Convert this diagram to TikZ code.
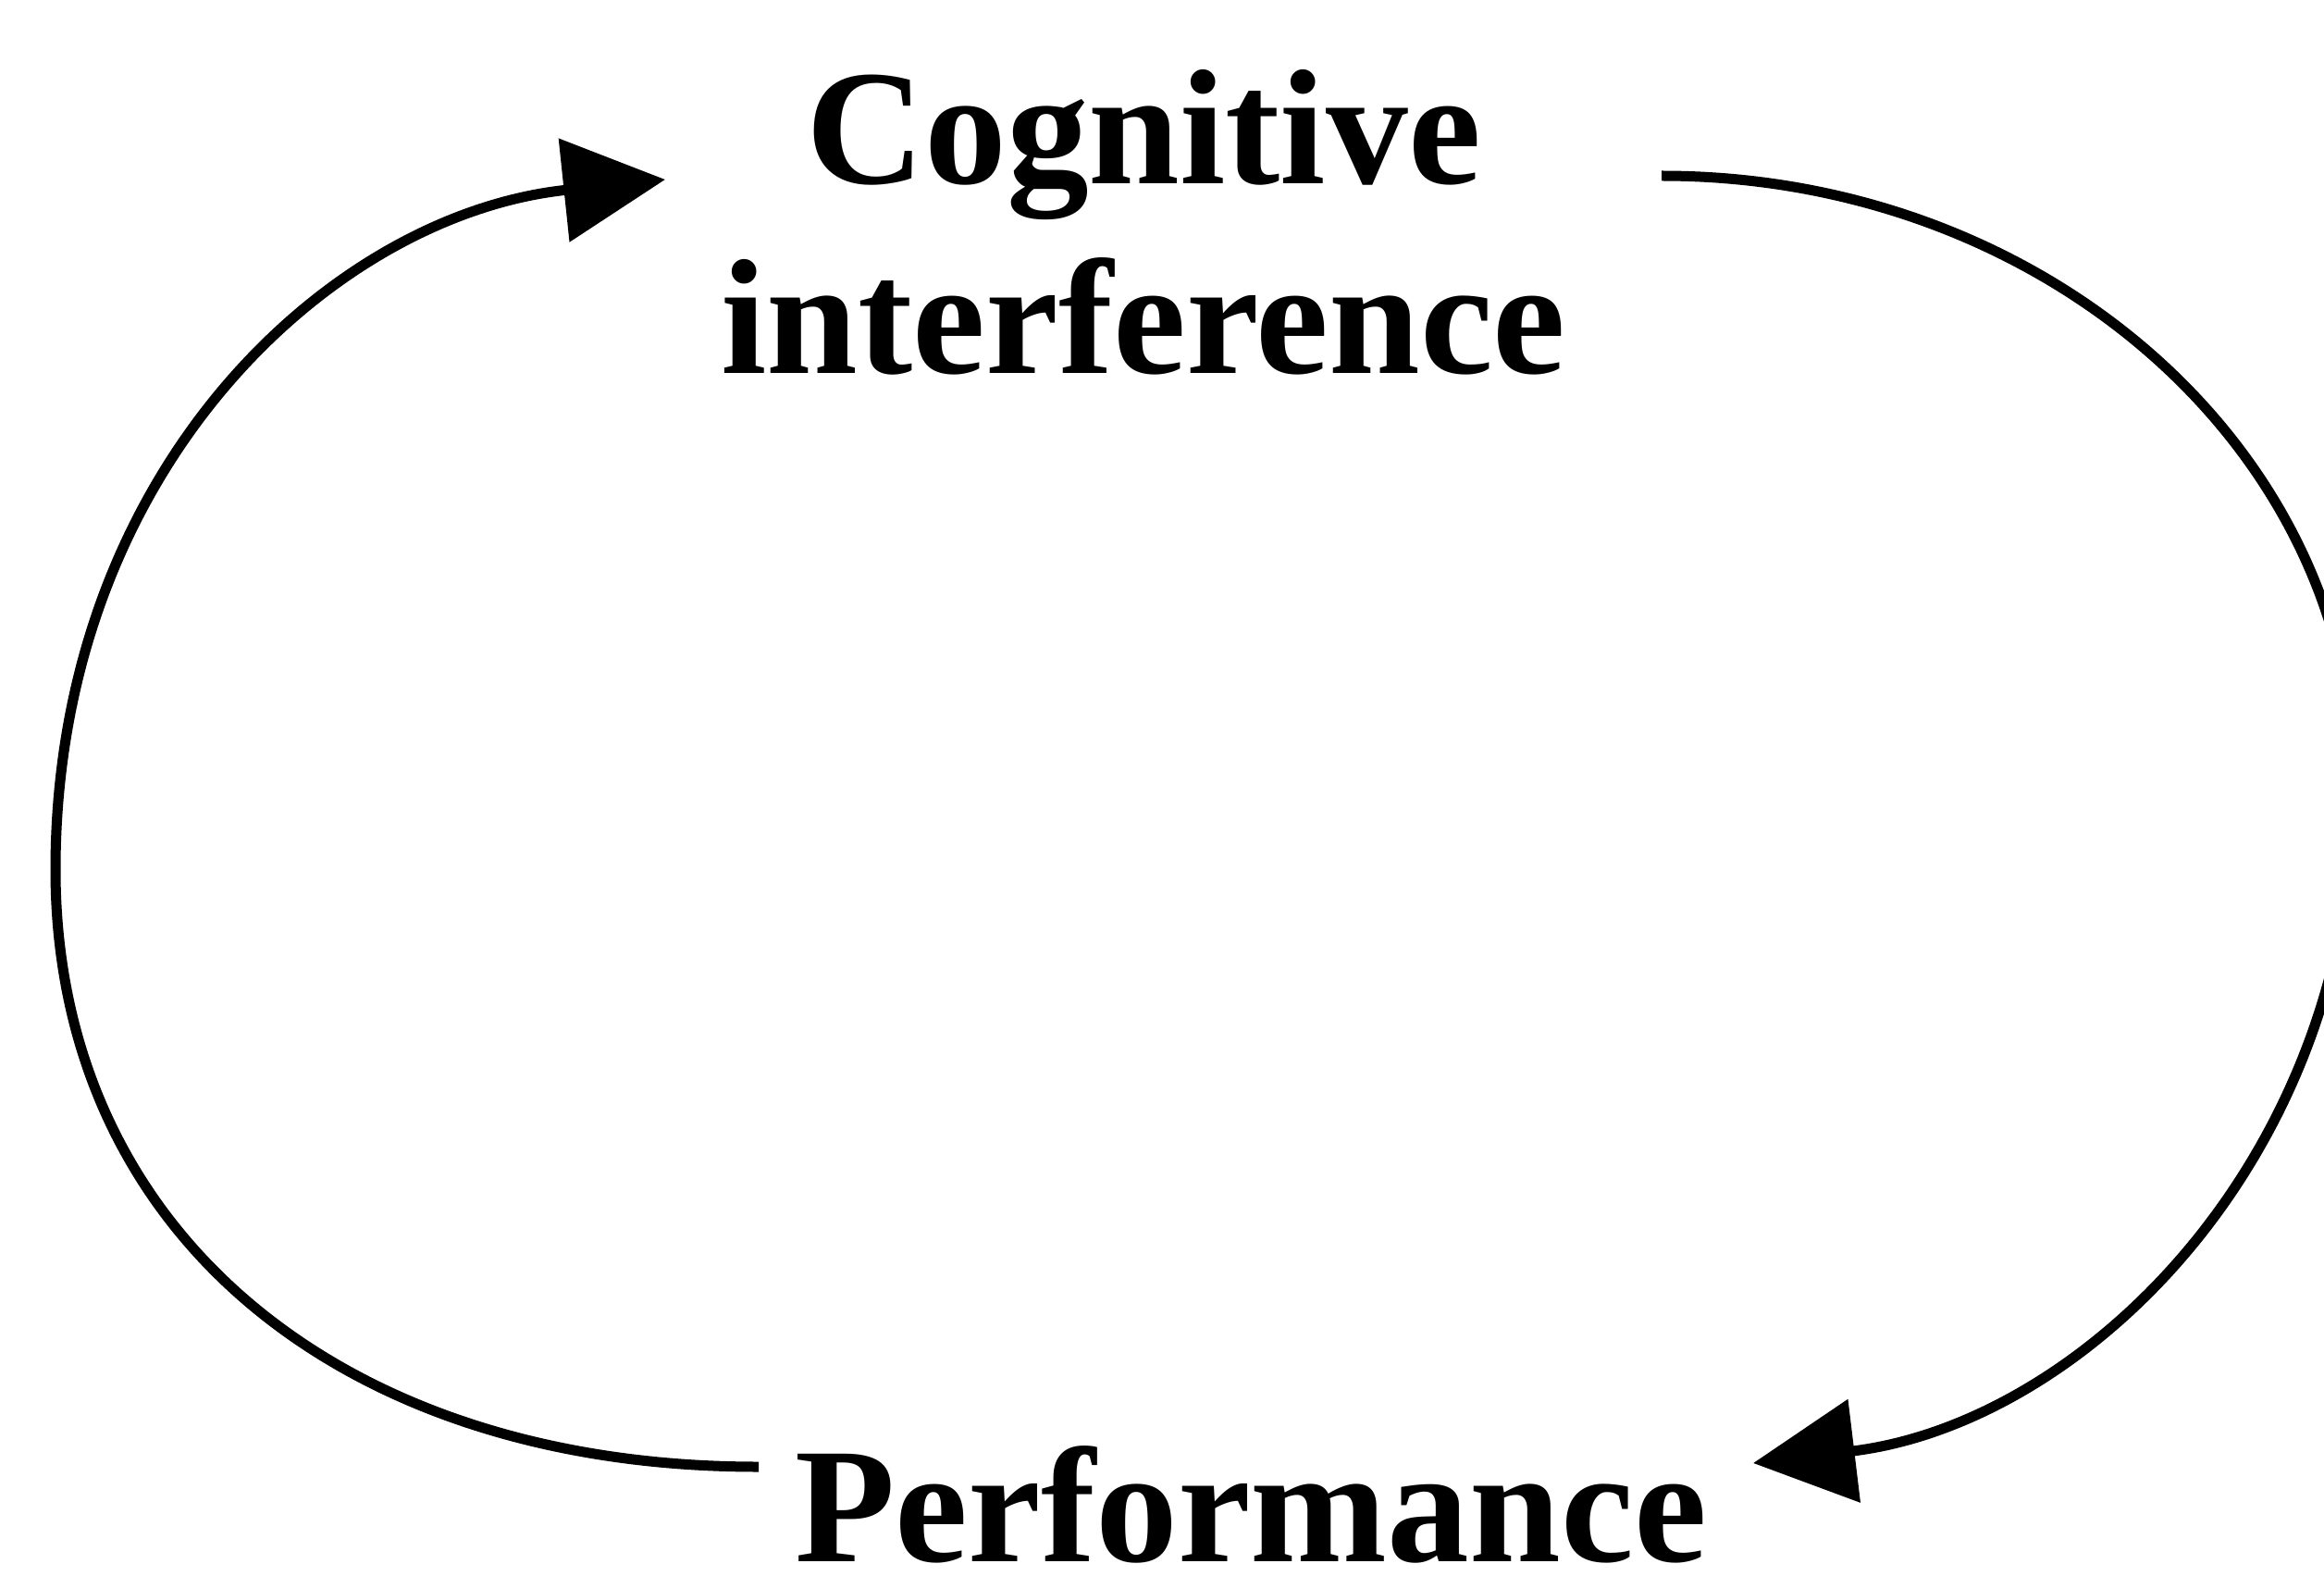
\documentclass[tikz,border=0pt]{standalone}
\usepackage{fontspec}
\setmainfont{Liberation Serif}
\usetikzlibrary{arrows.meta}

\begin{document}
\begin{tikzpicture}[
  x=1cm, y=1cm,
  label text/.style={font=\fontsize{50.5}{58.6}\selectfont\bfseries, inner sep=0pt, align=center},
  loop arc/.style={line width=0.11cm, -{Triangle[length=1.1cm, width=1.1cm]}}
]
  \useasboundingbox (0,0) rectangle (25.12,17.02);
  \clip (0,0) rectangle (25.12,17.02);

  % the two labels (base anchor sits on the last line)
  \node[label text, anchor=base] (cog) at (12.36,12.98) {Cognitive\\interference};
  \node[label text, anchor=base] (perf) at (13.52,0.15) {Performance};

  % free ends of the two arcs
  \coordinate (leftStart)  at (8.20,1.17);
  \coordinate (leftMid)    at (0.60,7.62);
  \coordinate (leftEnd)    at (7.19,15.08);
  \coordinate (rightStart) at (17.96,15.12);
  \coordinate (rightMid)   at (25.45,8.54);
  \coordinate (rightEnd)   at (18.95,1.21);

  % Performance -> Cognitive interference (left side)
  \draw[loop arc] (leftStart)
      .. controls (3.64,1.17) and (0.60,3.75) .. (leftMid)
      .. controls (0.60,11.95) and (3.59,14.70) .. (leftEnd);

  % Cognitive interference -> Performance (right side)
  \draw[loop arc] (rightStart)
      .. controls (22.09,15.12) and (25.45,12.17) .. (rightMid)
      .. controls (25.45,4.49) and (22.51,1.64) .. (rightEnd);
\end{tikzpicture}
\end{document}
